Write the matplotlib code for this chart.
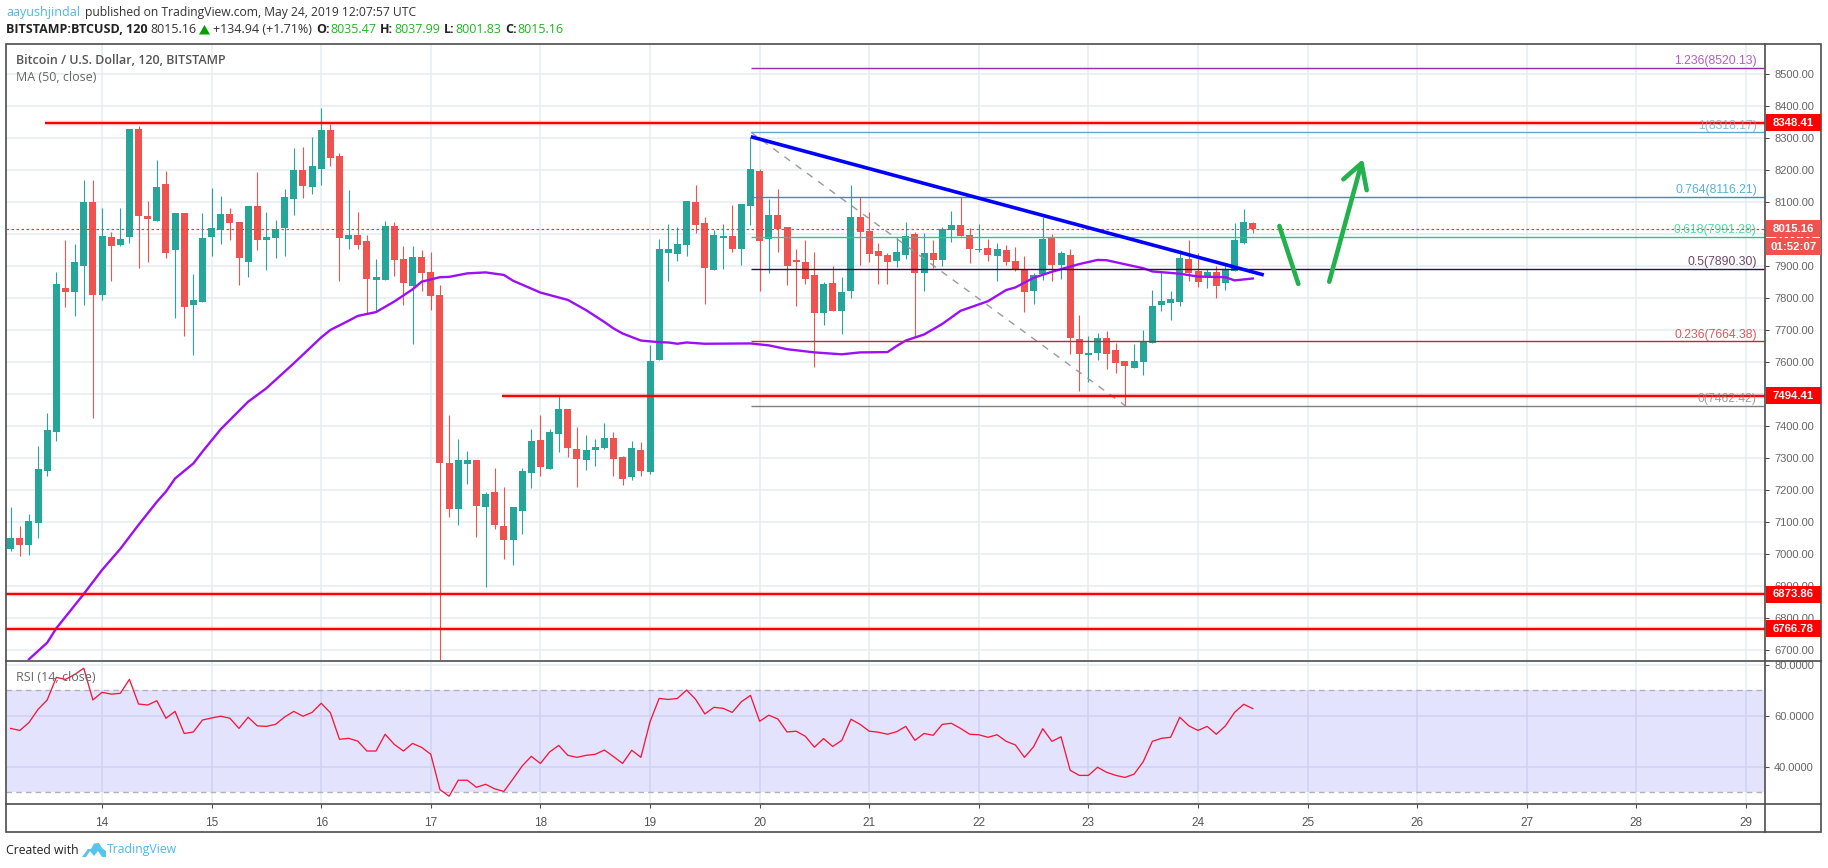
import numpy as np
import matplotlib
matplotlib.use('Agg')
import matplotlib.pyplot as plt
from matplotlib.patches import Polygon, Rectangle

# 2h bars of BTCUSD, first bar is 13 May 04:00
first_day = 13 + 2 / 12
opens = [7016, 7050, 7028, 7097, 7259, 7381, 7831, 7819, 7900, 8100, 7809, 7991, 7966, 7991, 8328, 8056, 8041, 8156, 7950, 8066,
         7778, 7788, 7991, 8012, 8062, 8037, 7912, 8087, 7981, 7987, 8019, 8109, 8200, 8147, 8203, 8325, 8244, 7984, 7997, 7978,
         7856, 7856, 8025, 7922, 7837, 7928, 7881, 7809, 7284, 7141, 7281, 7294, 7147, 7194, 7087, 7044, 7134, 7253, 7356, 7266,
         7375, 7453, 7328, 7294, 7325, 7331, 7362, 7303, 7241, 7325, 7256, 7606, 7941, 7937, 7966, 8100, 8034, 7887, 7987, 7994,
         7953, 8087, 8197, 7984, 8059, 8022, 7919, 7912, 7872, 7753, 7847, 7759, 7822, 8053, 8009, 7947, 7934, 7915, 7934, 8000,
         7878, 7940, 7919, 8012, 8028, 7997, 7950, 7956, 7931, 7950, 7915, 7890, 7822, 7875, 7987, 7903, 7934, 7672, 7622, 7628,
         7675, 7637, 7603, 7581, 7600, 7659, 7778, 7784, 7787, 7922, 7884, 7869, 7881, 7847, 7884, 7972, 8035]
highs = [7148, 7087, 7125, 7337, 7440, 7881, 7981, 7969, 8169, 8169, 8081, 8006, 8081, 8328, 8337, 8103, 8231, 8197, 8066, 8066,
         7875, 8066, 8144, 8119, 8081, 8037, 8087, 8194, 8069, 8044, 8141, 8269, 8272, 8303, 8394, 8344, 8253, 8137, 8069, 7997,
         7922, 8041, 8037, 7962, 7962, 7950, 7944, 7841, 7434, 7359, 7322, 7294, 7194, 7269, 7209, 7147, 7269, 7391, 7434, 7391,
         7494, 7453, 7397, 7372, 7359, 7409, 7381, 7306, 7353, 7350, 7653, 7984, 8031, 8022, 8103, 8153, 8053, 8012, 8031, 8091,
         8094, 8303, 8203, 8109, 8141, 8022, 7953, 7981, 7944, 7850, 7900, 7866, 8153, 8116, 8069, 7972, 7940, 7990, 8037, 8006,
         8003, 7981, 8022, 8072, 8116, 8019, 8031, 7984, 7972, 7965, 7959, 7931, 7878, 8053, 8000, 7947, 7953, 7747, 7681, 7690,
         7697, 7659, 7603, 7656, 7700, 7825, 7881, 7822, 7950, 7981, 7940, 7890, 7900, 7909, 8034, 8078, 8038]
lows = [7010, 6994, 6998, 7050, 7244, 7353, 7772, 7744, 7778, 7426, 7794, 7853, 7962, 7972, 7894, 7912, 8041, 7925, 7737, 7681,
        7622, 7788, 7931, 7969, 7981, 7841, 7866, 7950, 7888, 7925, 7931, 8059, 8112, 8125, 8153, 8212, 7853, 7953, 7953, 7750,
        7756, 7856, 7869, 7778, 7656, 7822, 7762, 6650, 7116, 7091, 7219, 7053, 6897, 7078, 6984, 6966, 7062, 7206, 7244, 7266,
        7319, 7303, 7209, 7262, 7275, 7328, 7244, 7216, 7231, 7244, 7250, 7606, 7853, 7916, 7931, 8003, 7781, 7887, 7891, 7944,
        7903, 8028, 7822, 7878, 7944, 7840, 7775, 7844, 7584, 7716, 7759, 7687, 7800, 7903, 7912, 7844, 7844, 7897, 7922, 7678,
        7822, 7894, 7900, 7975, 7994, 7909, 7944, 7915, 7853, 7903, 7884, 7756, 7781, 7856, 7853, 7859, 7625, 7509, 7537, 7606,
        7578, 7565, 7462, 7581, 7559, 7659, 7759, 7731, 7775, 7853, 7834, 7831, 7800, 7825, 7884, 7969, 8002]
closes = [7050, 7028, 7103, 7266, 7387, 7844, 7819, 7912, 8100, 7809, 7994, 7962, 7984, 8328, 8056, 8047, 8147, 7941, 8066, 7772,
          7794, 7988, 8018, 8062, 8034, 7925, 8087, 7981, 7991, 8016, 8116, 8200, 8150, 8212, 8325, 8237, 7987, 7997, 7966, 7859,
          7866, 8025, 7919, 7847, 7928, 7878, 7806, 7284, 7141, 7294, 7294, 7150, 7187, 7091, 7044, 7147, 7259, 7353, 7272, 7381,
          7453, 7331, 7297, 7325, 7334, 7362, 7297, 7234, 7331, 7259, 7603, 7953, 7953, 7969, 8103, 8028, 7894, 7997, 7994, 7953,
          8094, 8203, 7978, 8059, 8016, 7900, 7912, 7859, 7753, 7844, 7759, 7819, 8053, 8006, 7937, 7931, 7912, 7944, 7994, 7878,
          7940, 7919, 8016, 8028, 7994, 7953, 7953, 7934, 7953, 7912, 7887, 7819, 7872, 7984, 7903, 7940, 7675, 7625, 7628, 7675,
          7625, 7597, 7587, 7603, 7663, 7775, 7790, 7797, 7925, 7878, 7850, 7881, 7837, 7887, 7981, 8037, 8015]

# MA(50) at these bars
ma_bars = [2, 4, 5, 8, 10, 12, 14, 16, 17, 18, 20, 21, 23, 26, 28, 31, 34, 35, 37, 38, 40, 42, 44, 45, 47, 48, 50, 52, 54, 55,
           58, 61, 63, 65, 66, 67, 69, 71, 72, 73, 74, 76, 81, 83, 85, 88, 91, 93, 96, 97, 98, 100, 102, 104, 107, 109, 110,
           112, 114, 117, 119, 120, 124, 125, 128, 130, 133, 134, 136]
ma_values = [6671, 6723, 6768, 6875, 6950, 7016, 7091, 7163, 7195, 7236, 7283, 7320, 7390, 7476, 7518, 7596, 7677, 7700, 7729,
             7744, 7756, 7789, 7827, 7851, 7865, 7866, 7877, 7880, 7872, 7854, 7817, 7794, 7762, 7725, 7705, 7689, 7667, 7662,
             7661, 7657, 7661, 7657, 7658, 7652, 7640, 7630, 7624, 7630, 7631, 7650, 7667, 7686, 7719, 7760, 7790, 7825, 7833,
             7863, 7882, 7906, 7919, 7918, 7893, 7883, 7876, 7867, 7865, 7855, 7861]

rsi = [55.0, 54.2, 57.3, 62.5, 66.2, 75.1, 74.3, 76.2, 78.7, 66.2, 69.2, 68.5, 68.8, 74.3, 64.6, 64.2, 65.9, 59.0, 61.7, 53.0,
       53.6, 58.3, 59.1, 59.8, 59.0, 55.0, 59.4, 56.0, 55.8, 56.6, 59.5, 61.7, 59.8, 61.3, 64.9, 61.2, 50.7, 51.1, 50.0, 46.1,
       46.1, 52.7, 48.7, 46.1, 49.1, 47.5, 44.8, 30.9, 28.3, 34.6, 34.6, 31.8, 33.0, 31.2, 30.2, 35.1, 40.2, 44.0, 41.2, 45.7,
       48.3, 44.4, 43.6, 44.4, 44.8, 46.5, 43.9, 41.2, 46.4, 43.6, 57.6, 66.8, 66.4, 66.8, 70.1, 66.4, 60.7, 63.3, 62.9, 61.3,
       65.5, 68.0, 57.8, 60.2, 58.7, 53.6, 53.9, 51.9, 47.6, 51.0, 47.9, 50.3, 58.6, 56.6, 53.9, 53.5, 52.7, 53.7, 55.8, 50.3,
       53.0, 52.3, 56.6, 57.0, 55.0, 52.7, 52.5, 51.5, 52.5, 49.9, 48.5, 43.6, 47.8, 54.9, 49.9, 51.7, 38.5, 36.5, 36.5, 39.7,
       37.7, 36.5, 35.7, 37.0, 41.9, 49.9, 51.1, 51.5, 59.4, 56.0, 54.2, 55.8, 52.7, 56.0, 61.3, 64.5, 62.8]

price_ticks = [6700, 6800, 6900, 7000, 7100, 7200, 7300, 7400, 7500, 7600, 7700, 7800, 7900, 8000, 8100, 8200, 8300, 8400, 8500]
rsi_ticks = [40, 60, 80]
day_ticks = [14, 15, 16, 17, 18, 19, 20, 21, 22, 23, 24, 25, 26, 27, 28, 29]

fib_ratios = ['1.236', '1', '0.764', '0.618', '0.5', '0.236', '0']
fib_levels = [8520.13, 8318.17, 8116.21, 7991.28, 7890.30, 7664.38, 7462.42]
fib_colors = ['#9c27b0', '#5fa8cf', '#2196c9', '#1fc98f', '#3d0a33', '#c62828', '#808080']
fib_start = 19.92

sr_levels = [8348.41, 7494.41, 6873.86, 6766.78]
sr_starts = [13.48, 17.65, 13.12, 13.12]

trend_days = [19.92, 24.6]
trend_prices = [8304, 7872]
fib_diag_days = [19.92, 23.34]
fib_diag_prices = [8318.17, 7462.42]
arrow_down_days = [24.742, 24.915]
arrow_down_prices = [8025, 7844]
arrow_up_days = [25.197, 25.492]
arrow_up_prices = [7851, 8221]
head_days = [25.326, 25.492, 25.539]
head_prices = [8171, 8221, 8137]

last_price = 8015.16

W, H = 1828, 868
GRID = '#e6ecf1'
UP = '#26a69a'
DOWN = '#ef5350'
TXT = '#666666'
FRAME = '#4d4d4d'

plt.rcParams['font.family'] = ['Liberation Sans', 'DejaVu Sans']

fig = plt.figure(figsize=(W / 100, H / 100), dpi=100)


def panel(x0, y0, x1, y1):
    return fig.add_axes([x0 / W, 1 - y1 / H, (x1 - x0) / W, (y1 - y0) / H])


ax = panel(6, 44, 1765, 660)
ax_rsi = panel(6, 660, 1765, 804)
days = first_day + np.arange(len(closes)) / 12
xlim = (13.124, 29.173)

# price panel
o, h, l, c = map(np.array, (opens, highs, lows, closes))
colors = np.where(c >= o, UP, DOWN)
ax.vlines(days, l, h, colors=colors, linewidth=0.8, zorder=2)
ax.bar(days, np.maximum(np.abs(c - o), 3), bottom=np.minimum(o, c), width=7 / 109.6, color=colors, linewidth=0, zorder=3)
ax.plot(first_day + np.array(ma_bars) / 12, ma_values, color='#9b10f5', lw=1.7, zorder=4)

for level, start in zip(sr_levels, sr_starts):
    ax.hlines(level, start, xlim[1], color='#ff0000', lw=3.2, alpha=0.22, zorder=5)
    ax.hlines(level, start, xlim[1], color='#ff0000', lw=1.5, zorder=5)

for ratio, level, col in zip(fib_ratios, fib_levels, fib_colors):
    ax.hlines(level, fib_start, 29.165, color=col, lw=1.0, zorder=5)
    ax.annotate('%s(%.2f)' % (ratio, level), (29.098, level), xytext=(0, 4.8), textcoords='offset points',
                ha='right', va='center', fontsize=8.8, color=col, alpha=0.75, zorder=6)

ax.plot(fib_diag_days, fib_diag_prices, color='#9a9a9a', lw=1, dashes=(5, 5), zorder=4)
ax.plot(trend_days, trend_prices, color='#0000ff', lw=2.6, solid_capstyle='butt', zorder=6)
ax.axhline(last_price, color='#f23b3b', lw=0.9, dashes=(2, 2), zorder=5)

ax.plot(arrow_down_days, arrow_down_prices, color='#22b14c', lw=3.3, solid_capstyle='round', zorder=7)
ax.plot(arrow_up_days, arrow_up_prices, color='#22b14c', lw=3.3, solid_capstyle='round', zorder=7)
ax.plot(head_days, head_prices, color='#22b14c', lw=3.3, solid_capstyle='round', solid_joinstyle='round', zorder=7)

ax.set_xlim(xlim)
ax.set_ylim(6668.75, 8593.75)
ax.set_xticks(day_ticks)
ax.set_yticks(price_ticks)
ax.set_yticklabels(['%.2f' % p for p in price_ticks])
ax.tick_params(axis='x', bottom=False, labelbottom=False)

# rsi panel
ax_rsi.plot(days, rsi, color='#f5173c', lw=0.95, zorder=4)
ax_rsi.axhspan(30, 70, xmax=0.9995, color='#6464f5', alpha=0.18, lw=0, zorder=1)
ax_rsi.hlines([30, 70], xlim[0], 29.165, color='#b3b0c4', lw=1, linestyles=(0, (4, 3)), zorder=2)
ax_rsi.set_xlim(xlim)
ax_rsi.set_ylim(25.24, 81.93)
ax_rsi.set_xticks(day_ticks)
ax_rsi.set_yticks(rsi_ticks)
ax_rsi.set_yticklabels(['%.4f' % v for v in rsi_ticks])
ax_rsi.tick_params(axis='x', length=3, width=0.8, color=FRAME, pad=6.5, labelsize=8.5, labelcolor='#555555')

for a in (ax, ax_rsi):
    a.set_axisbelow(True)
    a.grid(True, color=GRID, lw=1.1)
    a.yaxis.tick_right()
    a.tick_params(axis='y', length=3, width=0.8, color=FRAME, pad=3.5, labelsize=8, labelcolor=TXT)
    for s in a.spines.values():
        s.set_visible(False)

# everything around the panels, in pixel coordinates of the figure
over = fig.add_axes([0, 0, 1, 1], zorder=5)
over.set_xlim(0, W)
over.set_ylim(H, 0)
over.axis('off')
over.patch.set_alpha(0)

over.add_patch(Rectangle((6, 44), 1815, 787.5, fill=False, ec=FRAME, lw=1.2))
over.plot([6, 1821], [660.5, 660.5], color=FRAME, lw=1.2)
over.plot([6, 1821], [804, 804], color=FRAME, lw=1.2)
over.plot([1765, 1765], [44, 831.5], color=FRAME, lw=1.2)

# price tags
tag_labels = ['8348.41', '7494.41', '6873.86', '6766.78']
for label, level in zip(tag_labels, sr_levels):
    y = 74 + (8500 - level) * 0.32
    over.add_patch(Rectangle((1766, y - 8.5), 55, 17, fc='#ff0000', ec='none'))
    over.text(1793.5, y, label, color='white', fontsize=8.2, fontweight='bold', ha='center', va='center')
over.add_patch(Rectangle((1766, 220), 55, 17, fc=DOWN, ec='none'))
over.add_patch(Rectangle((1766, 238), 55, 17, fc=DOWN, ec='none'))
over.text(1793.5, 228.5, '8015.16', color='white', fontsize=8.2, fontweight='bold', ha='center', va='center')
over.text(1793.5, 246.5, '01:52:07', color='white', fontsize=8.2, fontweight='bold', ha='center', va='center')

# header
head = 'Open Sans'
over.text(6, 12.5, 'aayushjindal', color='#4db8ec', fontsize=9, family=head, va='center')
over.text(85, 12.5, 'published on TradingView.com, May 24, 2019 12:07:57 UTC', color='#333333', fontsize=8.75, family=head, va='center')
y2 = 29.5
over.text(6, y2, 'BITSTAMP:BTCUSD, 120', color='#222222', fontsize=9, family=head, fontweight='bold', va='center')
over.text(150, y2, '8015.16', color='#333333', fontsize=9, family=head, va='center')
over.add_patch(Polygon([(199, 34.5), (210, 34.5), (204.5, 25)], fc='#00a000', ec='none'))
over.text(213, y2, '+134.94 (+1.71%)', color='#333333', fontsize=9, family=head, va='center')
over_labels = ['O:', 'H:', 'L:', 'C:']
over_values = ['8035.47', '8037.99', '8001.83', '8015.16']
label_x = [316, 380, 444, 505]
value_x = [330, 394, 455, 517.5]
for lab, val, xl, xv in zip(over_labels, over_values, label_x, value_x):
    over.text(xl, y2, lab, color='#222222', fontsize=9, family=head, fontweight='bold', va='center')
    over.text(xv, y2, val, color='#22b422', fontsize=9, family=head, va='center')

# chart legends
over.text(15.5, 60, 'Bitcoin / U.S. Dollar, 120, BITSTAMP', color='#555555', fontsize=9, family=head, fontweight='semibold', va='center')
over.text(15.5, 77.7, 'MA (50, close)', color='#666666', fontsize=9, family=head, va='center')
over.text(16, 677.7, 'RSI (14, close)', color='#666666', fontsize=9, family=head, va='center')

# footer
over.text(6, 850, 'Created with', color='#222222', fontsize=8.8, family=head, va='center')
over.add_patch(Polygon([(82, 857), (88, 849), (91, 849), (94, 843.5), (99, 843), (102, 848), (106, 851), (106, 857), (102, 857),
                        (98, 851), (94, 856), (90, 851), (86, 857)], fc='#57c4ec', ec='none'))
over.text(107, 850, 'TradingView', color='#4db8ec', fontsize=8.8, family=head, va='center')

fig.savefig('out.png', dpi=100)
